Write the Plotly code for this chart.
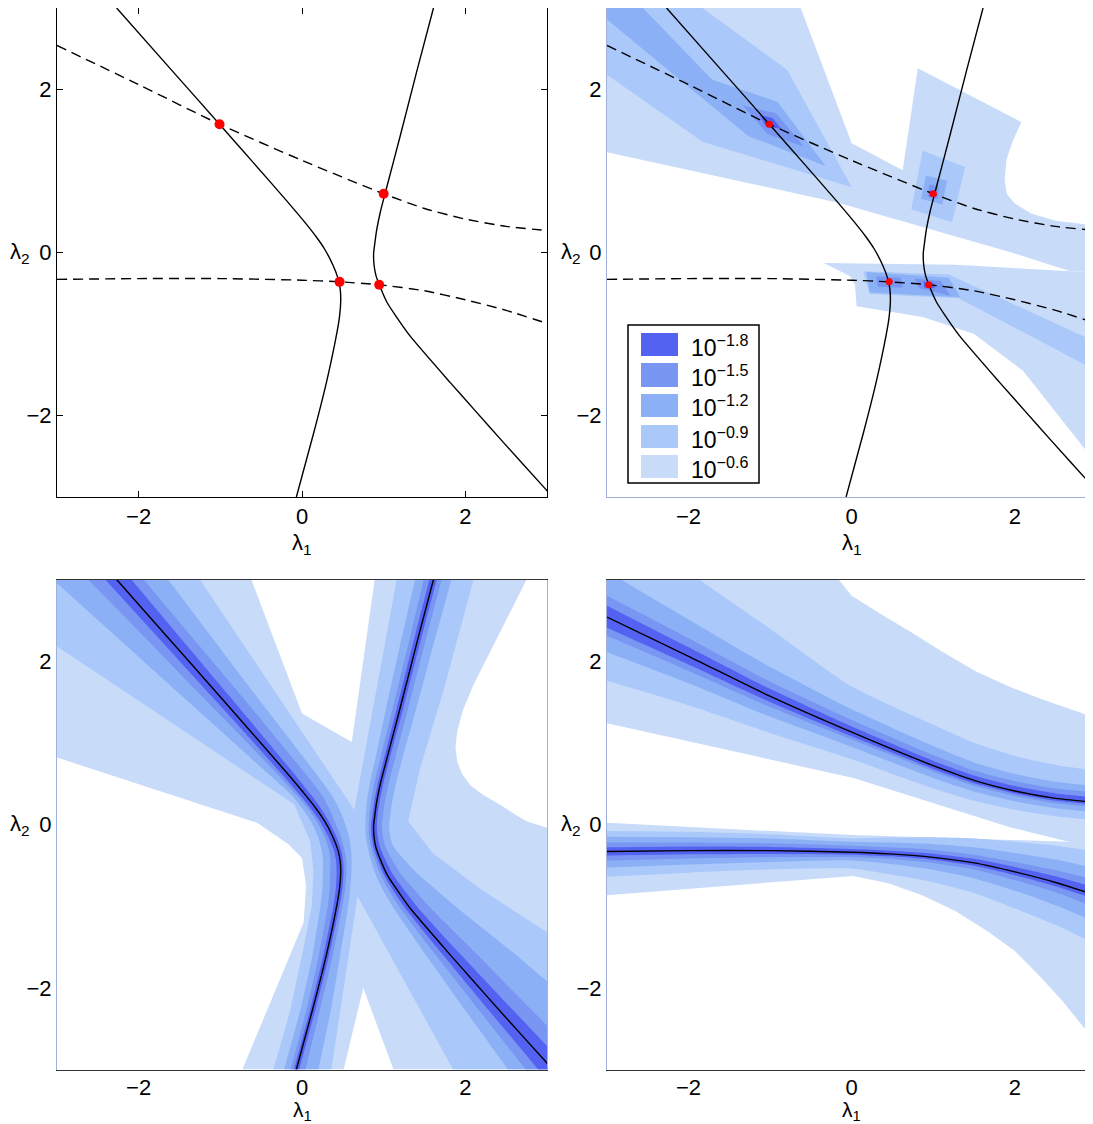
import plotly.graph_objects as go

# ---------------- styling constants ----------------
FONT = "Arial, Liberation Sans, Helvetica, sans-serif"
level_names = ["10<sup>−1.8</sup>", "10<sup>−1.5</sup>", "10<sup>−1.2</sup>",
               "10<sup>−0.9</sup>", "10<sup>−0.6</sup>"]
level_colors = ["#5462F2", "#7896F2", "#8CB0F5", "#AAC8FA", "#C8DCFA"]

tick_vals = [-2, 0, 2]
tick_text = ["−2", "0", "2"]

# ---------------- curves ----------------
# solid branches: x as a function of y
cl_y = [3.0, 2.29, 1.574, 1.1, 0.63, 0.36, 0.19, 0.04, -0.15, -0.32, -0.45, -0.6, -0.78, -0.98, -1.59, -2.2, -3.0]
cl_x = [-2.27, -1.643, -1.01, -0.593, -0.184, 0.043, 0.176, 0.278, 0.377, 0.442, 0.468, 0.474, 0.46, 0.428, 0.30, 0.147, -0.069]
cr_y = [3.0, 2.24, 1.42, 0.81, 0.5, 0.28, 0.1, -0.01, -0.15, -0.28, -0.43, -0.61, -0.78, -1.02, -1.59, -1.94, -2.29, -2.90, -3.0]
cr_x = [1.61, 1.41, 1.20, 1.04, 0.96, 0.915, 0.89, 0.877, 0.882, 0.905, 0.96, 1.04, 1.15, 1.32, 1.81, 2.12, 2.43, 2.98, 3.07]
# dashed branches: y as a function of x
cu_x = [-3.0, -2.0, -1.01, 0.0, 1.0, 1.5, 2.0, 2.5, 3.0]
cu_y = [2.54, 2.06, 1.574, 1.13, 0.72, 0.54, 0.41, 0.32, 0.27]
cd_x = [-3.0, -2.0, -1.0, 0.0, 0.46, 0.945, 1.5, 2.0, 2.5, 3.0]
cd_y = [-0.33, -0.32, -0.32, -0.34, -0.36, -0.396, -0.47, -0.58, -0.71, -0.87]
# intersection points
dot_x = [-1.01, 1.0, 0.46, 0.945]
dot_y = [1.574, 0.72, -0.36, -0.396]

# ---------------- band half-widths, bottom-left (horizontal) ----------------
cl_off_left = {
    1: [0.14, 0.12, 0.10, 0.085, 0.075, 0.07, 0.065, 0.06, 0.055, 0.05, 0.05, 0.05, 0.045, 0.04, 0.035, 0.03, 0.03],
    2: [0.35, 0.28, 0.22, 0.17, 0.13, 0.11, 0.10, 0.10, 0.10, 0.11, 0.12, 0.13, 0.12, 0.11, 0.09, 0.075, 0.07],
    3: [0.78, 0.62, 0.46, 0.35, 0.24, 0.17, 0.17, 0.17, 0.18, 0.20, 0.21, 0.22, 0.21, 0.20, 0.17, 0.15, 0.15],
}
cl_off_right = {
    1: [0.18, 0.15, 0.12, 0.10, 0.08, 0.07, 0.06, 0.05, 0.045, 0.04, 0.035, 0.035, 0.035, 0.035, 0.035, 0.035, 0.035],
    2: [0.33, 0.30, 0.27, 0.245, 0.22, 0.20, 0.16, 0.12, 0.10, 0.08, 0.075, 0.07, 0.07, 0.07, 0.08, 0.09, 0.11],
    3: [0.63, 0.54, 0.45, 0.40, 0.35, 0.32, 0.28, 0.24, 0.20, 0.16, 0.14, 0.13, 0.13, 0.14, 0.17, 0.22, 0.27],
}
cr_off_left = {
    1: [0.05, 0.045, 0.04, 0.035, 0.032, 0.03, 0.03, 0.03, 0.03, 0.03, 0.035, 0.04, 0.05, 0.06, 0.09, 0.11, 0.13, 0.17, 0.18],
    2: [0.12, 0.10, 0.09, 0.08, 0.075, 0.07, 0.065, 0.06, 0.06, 0.06, 0.07, 0.08, 0.10, 0.12, 0.18, 0.215, 0.25, 0.32, 0.33],
    3: [0.225, 0.2, 0.17, 0.14, 0.13, 0.12, 0.11, 0.10, 0.10, 0.10, 0.12, 0.14, 0.17, 0.20, 0.30, 0.36, 0.42, 0.53, 0.55],
}
cr_off_right = {
    1: [0.04, 0.04, 0.04, 0.035, 0.035, 0.035, 0.035, 0.04, 0.045, 0.05, 0.06, 0.07, 0.085, 0.10, 0.13, 0.15, 0.17, 0.20, 0.21],
    2: [0.10, 0.10, 0.10, 0.10, 0.10, 0.10, 0.10, 0.10, 0.11, 0.12, 0.14, 0.17, 0.21, 0.25, 0.33, 0.365, 0.40, 0.45, 0.46],
    3: [0.22, 0.21, 0.20, 0.19, 0.19, 0.19, 0.19, 0.19, 0.20, 0.22, 0.29, 0.38, 0.47, 0.58, 0.80, 0.90, 1.0, 1.2, 1.22],
}
# explicit outer regions, bottom-left
bl_l4_polys = [
    ([-3, -3, -0.1, 0.1, 0.14, 0.12, 0.0, -0.15, -0.35, 0.36, 0.68, 0.70, 0.64, -1.25],
     [3, 2.18, 0.25, -0.2, -0.57, -1.0, -1.6, -2.3, -3.0, -3.0, -0.88, -0.4, 0.18, 3.0]),
    ([1.16, 0.64, 0.62, 0.68, 1.85, 3.0, 3.0, 2.2, 1.6, 1.30, 1.45, 1.75, 2.10],
     [3.0, 0.18, -0.4, -0.88, -3.0, -3.0, -1.32, -0.8, -0.35, 0.04, 0.7, 1.7, 3.0]),
]
bl_l5_polys = [
    ([-3, -0.62, 0.0, 0.61, 0.89, 2.75, 2.6, 2.43, 2.26, 2.10, 1.97, 1.90, 1.88, 1.90, 1.96, 2.06,
      2.22, 2.43, 2.6, 2.75, 3.0, 3.0, 1.12, 0.75, 0.51, -0.73, 0.02, 0.05, 0.0, -0.17, -0.55, -3.0],
     [3, 3, 1.36, 1.01, 3, 3, 2.7, 2.36, 2.03, 1.71, 1.4, 1.14, 0.95, 0.77, 0.62, 0.48,
      0.36, 0.24, 0.13, 0.04, -0.04, -3, -3, -2.0, -3, -3, -1.2, -0.75, -0.41, -0.24, 0.02, 0.82]),
]

# ---------------- band half-widths, bottom-right (vertical) ----------------
cu_off_up = {
    1: [0.14, 0.11, 0.09, 0.07, 0.06, 0.06, 0.06, 0.06, 0.06],
    2: [0.26, 0.22, 0.18, 0.15, 0.13, 0.12, 0.12, 0.12, 0.12],
    3: [0.56, 0.45, 0.36, 0.28, 0.24, 0.22, 0.21, 0.205, 0.20],
    4: [1.26, 1.03, 0.83, 0.56, 0.50, 0.46, 0.43, 0.41, 0.39],
}
cu_off_dn = {
    1: [0.13, 0.10, 0.07, 0.05, 0.04, 0.035, 0.03, 0.03, 0.03],
    2: [0.23, 0.18, 0.13, 0.09, 0.07, 0.065, 0.06, 0.06, 0.06],
    3: [0.43, 0.33, 0.25, 0.18, 0.15, 0.135, 0.125, 0.12, 0.12],
    4: [0.78, 0.60, 0.45, 0.33, 0.28, 0.25, 0.23, 0.22, 0.22],
}
cd_off_up = {
    1: [0.05, 0.05, 0.045, 0.04, 0.04, 0.045, 0.05, 0.06, 0.075, 0.09],
    2: [0.11, 0.10, 0.09, 0.08, 0.08, 0.09, 0.10, 0.12, 0.15, 0.19],
    3: [0.18, 0.165, 0.15, 0.13, 0.14, 0.16, 0.19, 0.23, 0.28, 0.33],
    4: [0.25, 0.23, 0.20, 0.17, 0.20, 0.24, 0.30, 0.37, 0.45, 0.54],
}
cd_off_dn = {
    1: [0.05, 0.045, 0.04, 0.03, 0.03, 0.03, 0.035, 0.04, 0.045, 0.05],
    2: [0.11, 0.095, 0.08, 0.06, 0.06, 0.07, 0.08, 0.10, 0.12, 0.15],
    3: [0.20, 0.17, 0.14, 0.10, 0.12, 0.15, 0.19, 0.23, 0.28, 0.33],
    4: [0.31, 0.27, 0.23, 0.20, 0.25, 0.30, 0.37, 0.45, 0.52, 0.60],
}
br_l5_polys = [
    ([-3, -0.16, 0.0, 0.35, 0.72, 1.1, 1.53, 1.95, 2.34, 2.65, 3.0, 3.0, 2.66, 1.96, 0.02, -3.0],
     [3, 3, 2.8, 2.58, 2.36, 2.12, 1.87, 1.68, 1.53, 1.42, 1.30, -0.24, -0.21, -0.04, 0.57, 1.24]),
    ([-3, 0.02, 2.64, 3.0, 3.0, 2.92, 2.6, 2.28, 2.0, 1.67, 1.27, 0.87, 0.45, 0.02, -3.0],
     [0.02, -0.13, -0.21, -0.22, -2.68, -2.58, -2.18, -1.83, -1.55, -1.31, -1.06, -0.87, -0.72, -0.63, -0.865]),
]

# ---------------- top-right regions (explicit polygons) ----------------
tr_polys = {
    5: [
        ([-3, -0.625, 0.0, 0.625, 0.81, 2.08, 1.98, 1.9, 1.875, 1.9, 2.0, 2.2, 2.5, 3.0,
          3.0, 2.68, 1.96, 0.87, -0.18, -3.0],
         [3, 3, 1.34, 1.01, 2.26, 1.60, 1.38, 1.15, 0.9, 0.72, 0.6, 0.48, 0.39, 0.33,
          -0.24, -0.23, 0.0, 0.31, 0.615, 1.23]),
        ([-0.34, 1.27, 2.68, 3.0, 3.0, 2.1, 1.5, 0.87, 0.06, 0.04, -0.02],
         [-0.13, -0.15, -0.23, -0.24, -2.59, -1.45, -1.0, -0.79, -0.66, -0.40, -0.29]),
    ],
    4: [
        ([-3, -1.83, -0.79, 0.0, -1.83, -3.0], [3, 3, 2.24, 0.80, 1.36, 2.18]),
        ([0.73, 0.87, 1.39, 1.23], [0.53, 1.25, 1.05, 0.37]),
        ([0.14, 1.19, 3.0, 3.0, 1.31, 0.22], [-0.23, -0.27, -1.1, -1.45, -0.56, -0.51]),
    ],
    3: [
        ([-3, -2.56, -1.71, -0.91, -0.32, -1.27, -3.0], [3, 3, 2.12, 1.85, 1.06, 1.43, 2.86]),
        ([0.91, 1.17, 1.11, 0.85], [0.945, 0.88, 0.59, 0.66]),
        ([0.18, 1.19, 1.33, 0.22], [-0.24, -0.31, -0.55, -0.49]),
    ],
    2: [
        ([-1.33, -0.93, -0.585, -1.03], [1.80, 1.71, 1.30, 1.45]),
        ([0.95, 1.07, 1.05, 0.93], [0.835, 0.81, 0.66, 0.68]),
        ([0.30, 0.60, 0.625, 0.32], [-0.29, -0.31, -0.43, -0.42]),
        ([0.77, 1.09, 1.21, 0.83], [-0.32, -0.35, -0.53, -0.44]),
    ],
    1: [
        ([-1.13, -0.97, -0.87, -1.05], [1.69, 1.65, 1.52, 1.54]),
        ([0.96, 1.04, 1.03, 0.95], [0.76, 0.75, 0.68, 0.69]),
        ([0.88, 1.0, 1.02, 0.89], [-0.36, -0.37, -0.44, -0.43]),
    ],
}

fig = go.Figure()

def poly(xs, ys, level, ax):
    c = level_colors[level - 1]
    fig.add_trace(go.Scatter(x=xs, y=ys, mode="lines", fill="toself", fillcolor=c,
                             line=dict(width=0, color=c), hoverinfo="skip", showlegend=False,
                             xaxis="x" + ax, yaxis="y" + ax))

def band(xa, ya, xb, yb, level, ax, fillmode):
    c = level_colors[level - 1]
    fig.add_trace(go.Scatter(x=xa, y=ya, mode="lines",
                             line=dict(width=0, color=c, shape="spline", smoothing=0.6),
                             hoverinfo="skip", showlegend=False, xaxis="x" + ax, yaxis="y" + ax))
    fig.add_trace(go.Scatter(x=xb, y=yb, mode="lines", fill=fillmode, fillcolor=c,
                             line=dict(width=0, color=c, shape="spline", smoothing=0.6),
                             hoverinfo="skip", showlegend=False, xaxis="x" + ax, yaxis="y" + ax))

def hband(xc, yc, lo, ro, level, ax):
    band([x - d for x, d in zip(xc, lo)], yc, [x + d for x, d in zip(xc, ro)], yc, level, ax, "tonextx")

def vband(xc, yc, up, dn, level, ax):
    band(xc, [y - d for y, d in zip(yc, dn)], xc, [y + d for y, d in zip(yc, up)], level, ax, "tonexty")

def curve(xs, ys, ax, dash="solid", width=1.4):
    fig.add_trace(go.Scatter(x=xs, y=ys, mode="lines",
                             line=dict(color="black", width=width, dash=dash,
                                       shape="spline", smoothing=0.6),
                             hoverinfo="skip", showlegend=False, xaxis="x" + ax, yaxis="y" + ax))

def dots(ax, size):
    fig.add_trace(go.Scatter(x=dot_x, y=dot_y, mode="markers",
                             marker=dict(color="#FF0000", size=size, line=dict(width=0)),
                             hoverinfo="skip", showlegend=False, xaxis="x" + ax, yaxis="y" + ax))

DASH = "10px,6px"

# ---- panel 1 (top-left) ----
curve(cl_x, cl_y, "")
curve(cr_x, cr_y, "")
curve(cu_x, cu_y, "", dash=DASH)
curve(cd_x, cd_y, "", dash=DASH)
dots("", 10)

# ---- panel 2 (top-right) ----
for lev in [5, 4, 3, 2, 1]:
    for xs, ys in tr_polys[lev]:
        poly(xs, ys, lev, "2")
curve(cl_x, cl_y, "2")
curve(cr_x, cr_y, "2")
curve(cu_x, cu_y, "2", dash=DASH)
curve(cd_x, cd_y, "2", dash=DASH)
dots("2", 7)

# ---- panel 3 (bottom-left) ----
for xs, ys in bl_l5_polys:
    poly(xs, ys, 5, "3")
for xs, ys in bl_l4_polys:
    poly(xs, ys, 4, "3")
for lev in [3, 2, 1]:
    hband(cl_x, cl_y, cl_off_left[lev], cl_off_right[lev], lev, "3")
    hband(cr_x, cr_y, cr_off_left[lev], cr_off_right[lev], lev, "3")
curve(cl_x, cl_y, "3")
curve(cr_x, cr_y, "3")

# ---- panel 4 (bottom-right) ----
for xs, ys in br_l5_polys:
    poly(xs, ys, 5, "4")
for lev in [4, 3, 2, 1]:
    vband(cu_x, cu_y, cu_off_up[lev], cu_off_dn[lev], lev, "4")
    vband(cd_x, cd_y, cd_off_up[lev], cd_off_dn[lev], lev, "4")
curve(cu_x, cu_y, "4")
curve(cd_x, cd_y, "4")

# ---------------- layout ----------------
# page has an 8px body margin; figure is sized so the page is 1093x1124
PAD = 8
W, H = 1093 - PAD, 1124 - PAD

def fx(p):
    return (p - PAD) / W

def fy(p):
    return 1 - (p - PAD) / H

xl = [fx(57), fx(547)]
xr = [fx(607), 1.0]
yt = [fy(497), 1.0]
yb = [fy(1069.5), fy(579.5)]

def xaxis(dom, rng, linecolor, ticks, anchor, standoff=0):
    return dict(domain=dom, range=rng, anchor=anchor, tickvals=tick_vals, ticktext=tick_text,
                showgrid=False, zeroline=False, showline=True, linecolor=linecolor, linewidth=1,
                mirror="ticks" if ticks else True, ticks="inside" if ticks else "",
                ticklen=6, tickcolor=linecolor,
                tickfont=dict(family=FONT, size=22, color="black"), ticklabelstandoff=standoff)

def yaxis(dom, linecolor, ticks, anchor):
    return dict(domain=dom, range=[-3, 3], anchor=anchor, tickvals=tick_vals, ticktext=tick_text,
                showgrid=False, zeroline=False, showline=True, linecolor=linecolor, linewidth=1,
                mirror="ticks" if ticks else True, ticks="inside" if ticks else "",
                ticklen=6, tickcolor=linecolor,
                tickfont=dict(family=FONT, size=22, color="black"), ticklabelstandoff=0)

xr_max = 2.958
fig.update_layout(
    width=W, height=H, margin=dict(l=0, r=0, t=0, b=0),
    paper_bgcolor="white", plot_bgcolor="white", showlegend=False,
    xaxis=xaxis(xl, [-3, 3], "black", True, "y"),
    yaxis=yaxis(yt, "black", True, "x"),
    xaxis2=xaxis(xr, [-3, xr_max], "#9FB0DA", False, "y2"),
    yaxis2=yaxis(yt, "#9FB0DA", False, "x2"),
    xaxis3=xaxis(xl, [-3, 3], "#333333", False, "y3", standoff=-2),
    yaxis3=yaxis(yb, "#9FB0DA", False, "x3"),
    xaxis4=xaxis(xr, [-3, xr_max], "#333333", False, "y4", standoff=-2),
    yaxis4=yaxis(yb, "#9FB0DA", False, "x4"),
)

ann = []
for xa, ypos, fs in [("x", fy(544), 22), ("x2", fy(544), 22), ("x3", fy(1111), 21), ("x4", fy(1111), 21)]:
    ann.append(dict(x=0, xref=xa, y=ypos, yref="paper", text="λ<sub>1</sub>", showarrow=False,
                    font=dict(family=FONT, size=fs, color="black"), xanchor="center", yanchor="middle"))
for ya, xpos in [("y", fx(20)), ("y2", fx(571)), ("y3", fx(20)), ("y4", fx(571))]:
    ann.append(dict(x=xpos, xref="paper", y=0, yref=ya, text="λ<sub>2</sub>", showarrow=False,
                    font=dict(family=FONT, size=22, color="black"), xanchor="center", yanchor="middle"))

# legend box of the top-right panel
shapes = [dict(type="rect", xref="paper", yref="paper",
               x0=fx(628), x1=fx(759), y0=fy(483), y1=fy(325),
               line=dict(color="black", width=1.5), fillcolor="white", layer="above")]
leg_rows = [(333, 356), (363, 387), (394, 417), (425, 448), (455, 478)]
for i, (r0, r1) in enumerate(leg_rows):
    shapes.append(dict(type="rect", xref="paper", yref="paper",
                       x0=fx(641), x1=fx(678), y0=fy(r1), y1=fy(r0),
                       line=dict(width=0), fillcolor=level_colors[i], layer="above"))
    ann.append(dict(x=fx(689), xref="paper", y=fy((r0 + r1) / 2 + 1), yref="paper",
                    text=level_names[i], showarrow=False, xanchor="left", yanchor="middle",
                    font=dict(family=FONT, size=23, color="black")))

fig.update_layout(annotations=ann, shapes=shapes)
fig.write_html("out.html")
